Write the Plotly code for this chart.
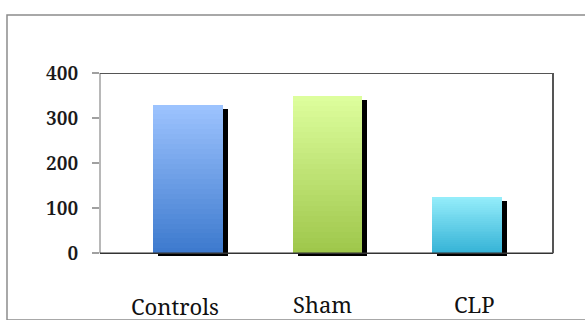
import plotly.graph_objects as go

# Data
categories = ["Controls", "Sham", "CLP"]
values = [330, 350, 126]
y_ticks = [0, 100, 200, 300, 400]

# Styling
SERIF = "Noto Serif"
top_colors = [(158, 196, 255), (222, 255, 158), (150, 238, 251)]
bottom_colors = [(60, 121, 205), (158, 198, 74), (52, 178, 214)]
bar_width = 0.5
n_steps = 30
shadow_dx = 0.036      # x-units (~5 px)
shadow_drop = 9        # y-units (~4 px)
shadow_below = 6       # y-units below zero (~3 px)

x_pos = list(range(len(categories)))
fig = go.Figure()

# Drop shadow behind each bar
fig.add_trace(go.Bar(
    x=[x + shadow_dx for x in x_pos],
    y=[v - shadow_drop + shadow_below for v in values],
    base=[-shadow_below] * len(values),
    width=bar_width,
    marker=dict(color="#000000", line=dict(width=0)),
    hoverinfo="skip",
    showlegend=False,
))


def mix(c1, c2, t):
    return "rgb({},{},{})".format(*[round(a + (b - a) * t) for a, b in zip(c1, c2)])


# Vertical gradient: each bar is a stack of thin slices
for k in range(n_steps):
    t = (k + 0.5) / n_steps
    fig.add_trace(go.Bar(
        x=x_pos,
        base=[v * k / n_steps for v in values],
        y=[v / n_steps * (1.0 if k == n_steps - 1 else 1.15) for v in values],
        width=bar_width,
        marker=dict(
            color=[mix(bc, tc, t) for bc, tc in zip(bottom_colors, top_colors)],
            line=dict(width=0),
        ),
        hoverinfo="skip",
        showlegend=False,
    ))

# Category labels under the axis
label_x = [-0.093, 0.961, 2.05]
label_shift = [-52.5, -51, -51]
for name, lx, ls in zip(categories, label_x, label_shift):
    fig.add_annotation(
        x=lx, y=0, xref="x", yref="y", yshift=ls, yanchor="middle",
        text=name, showarrow=False,
        font=dict(family=SERIF, size=22, color="#111111"),
    )

# Plot-area frame and axis lines
fig.add_shape(type="line", xref="paper", yref="y", x0=0, x1=0, y0=0, y1=400,
              line=dict(color="#a0a0a0", width=1.5))
fig.add_shape(type="line", xref="paper", yref="y", x0=0, x1=1, y0=0, y1=0,
              line=dict(color="#333333", width=1.5))
fig.add_shape(type="line", xref="paper", yref="y", x0=0, x1=1, y0=400, y1=400,
              line=dict(color="#555555", width=2))
fig.add_shape(type="line", xref="paper", yref="y", x0=1, x1=1, y0=0, y1=400,
              line=dict(color="#555555", width=2))

# Outer chart border
fig.add_shape(type="rect", xref="paper", yref="paper",
              x0=-0.2053, x1=1.09, y0=-0.350, y1=1.317,
              line=dict(color="#8c8c8c", width=1.5), layer="below")

fig.update_layout(
    width=585, height=320,
    margin=dict(l=100, r=32, t=73, b=64),
    paper_bgcolor="white", plot_bgcolor="white",
    barmode="overlay", bargap=0,
    xaxis=dict(range=[-0.631, 2.616], showticklabels=False, showgrid=False,
               zeroline=False, showline=False, ticks=""),
    yaxis=dict(range=[-6, 400], tickvals=y_ticks, showgrid=False, zeroline=False,
               showline=False, ticks="outside", ticklen=7, tickcolor="#a0a0a0",
               tickwidth=1.5, ticklabelstandoff=10,
               tickfont=dict(family=SERIF, size=19, color="#1a1a1a",
                             weight=600)),
)

fig.write_html("out.html")
